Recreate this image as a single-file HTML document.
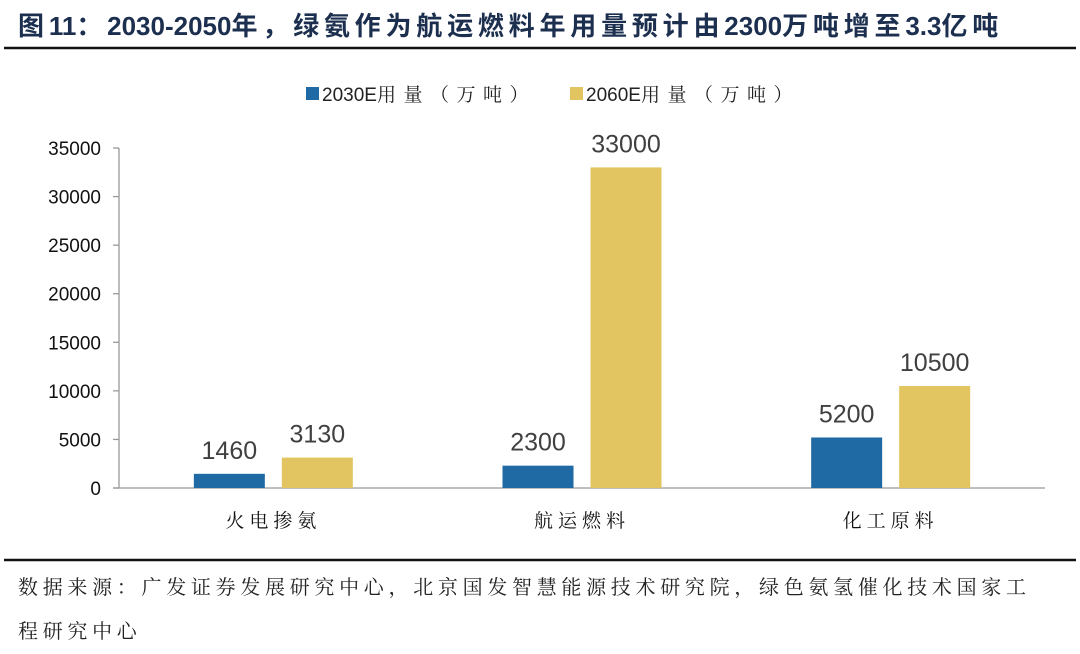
<!DOCTYPE html>
<html><head><meta charset="utf-8">
<style>
html,body{margin:0;padding:0;background:#fff;}
body{width:1080px;height:653px;overflow:hidden;position:relative;font-family:"Liberation Sans","Noto Sans CJK SC",sans-serif;}
#title{position:absolute;left:18px;top:6px;font-size:26px;font-weight:bold;color:#1c2f4f;white-space:nowrap;}
#title .c{letter-spacing:4.8px;}
#src{position:absolute;left:18px;top:566px;width:1060px;font-size:20px;line-height:44px;color:#222;font-family:"Liberation Serif","Noto Serif CJK SC",serif;letter-spacing:4.7px;white-space:nowrap;}
</style></head><body>
<div id="title"><span class="c">图</span>11<span class="c">：</span>2030-2050<span class="c">年，绿氨作为航运燃料年用量预计由</span>2300<span class="c">万吨增至</span>3.3<span class="c">亿吨</span></div>
<svg id="chart" width="1080" height="653" style="position:absolute;left:0;top:0">
<line x1="4" y1="48" x2="1076" y2="48" stroke="#111" stroke-width="2.5"/>
<line x1="4" y1="560" x2="1076" y2="560" stroke="#111" stroke-width="2.5"/>
<g id="legend">
<rect x="306" y="87" width="13" height="13" fill="#1f6aa5"/>
<text x="322" y="101" font-size="19" fill="#222" font-family="Liberation Sans,Noto Serif CJK SC,sans-serif">2030E<tspan letter-spacing="7.5">用量（万吨）</tspan></text>
<rect x="570" y="87" width="13" height="13" fill="#e2c560"/>
<text x="586" y="101" font-size="19" fill="#222" font-family="Liberation Sans,Noto Serif CJK SC,sans-serif">2060E<tspan letter-spacing="7.5">用量（万吨）</tspan></text>
</g>
<g id="axes"></g><g id="bars"></g>
</svg>
<div id="src">数据来源：广发证券发展研究中心，北京国发智慧能源技术研究院，绿色氨氢催化技术国家工<br>程研究中心</div>
<script>
const categories=["火电掺氨","航运燃料","化工原料"];
const series2030=[1460,2300,5200];
const series2060=[3130,33000,10500];
const yTicks=[0,5000,10000,15000,20000,25000,30000,35000];
const NS="http://www.w3.org/2000/svg";
const x0=119,x1=1045,yBase=488,yTop=148,yMax=35000;
function y(v){return yBase-(v/yMax)*(yBase-yTop);}
function catCenter(i){return x0+(x1-x0)*(i+0.5)/categories.length;}
function mk(tag,attrs,parent){const e=document.createElementNS(NS,tag);for(const k in attrs)e.setAttribute(k,attrs[k]);parent.appendChild(e);return e;}
const axes=document.getElementById('axes'),bars=document.getElementById('bars');
let a=mk('line',{x1:x0,y1:y(yMax),x2:x0,y2:yBase,stroke:'#999','stroke-width':1.3},axes);


a=mk('line',{x1:x0-6,y1:yBase,x2:x1,y2:yBase,stroke:'#999','stroke-width':1.3},axes);


yTicks.forEach(v=>{
 const t=mk('line',{x1:x0-6,y1:y(v),x2:x0,y2:y(v),stroke:'#999','stroke-width':1.3},axes);
 
 
 const l=mk('text',{x:x0-18,y:y(v)+7,'text-anchor':'end','font-size':19,fill:'#111'},axes);
 l.textContent=v;
 
 
});
const bw=71,gap=17;
categories.forEach((c,i)=>{
 const cx=catCenter(i);
 const l=mk('text',{x:cx,y:527,'text-anchor':'middle','font-size':19,fill:'#111','font-family':'Noto Serif CJK SC,serif','letter-spacing':'5'},axes);
 l.textContent=c;
 
 
 [[series2030[i],'#1f6aa5',cx-gap/2-bw,'2030'],[series2060[i],'#e2c560',cx+gap/2,'2060']].forEach(([v,col,bx,s])=>{
  const r=mk('rect',{x:bx,y:y(v),width:bw,height:yBase-y(v),fill:col},bars);
  
  
  const t=mk('text',{x:bx+bw/2,y:y(v)-15,'text-anchor':'middle','font-size':25,fill:'#404040'},bars);
  t.textContent=v;
  
  
 });
});
</script>
</body></html>
